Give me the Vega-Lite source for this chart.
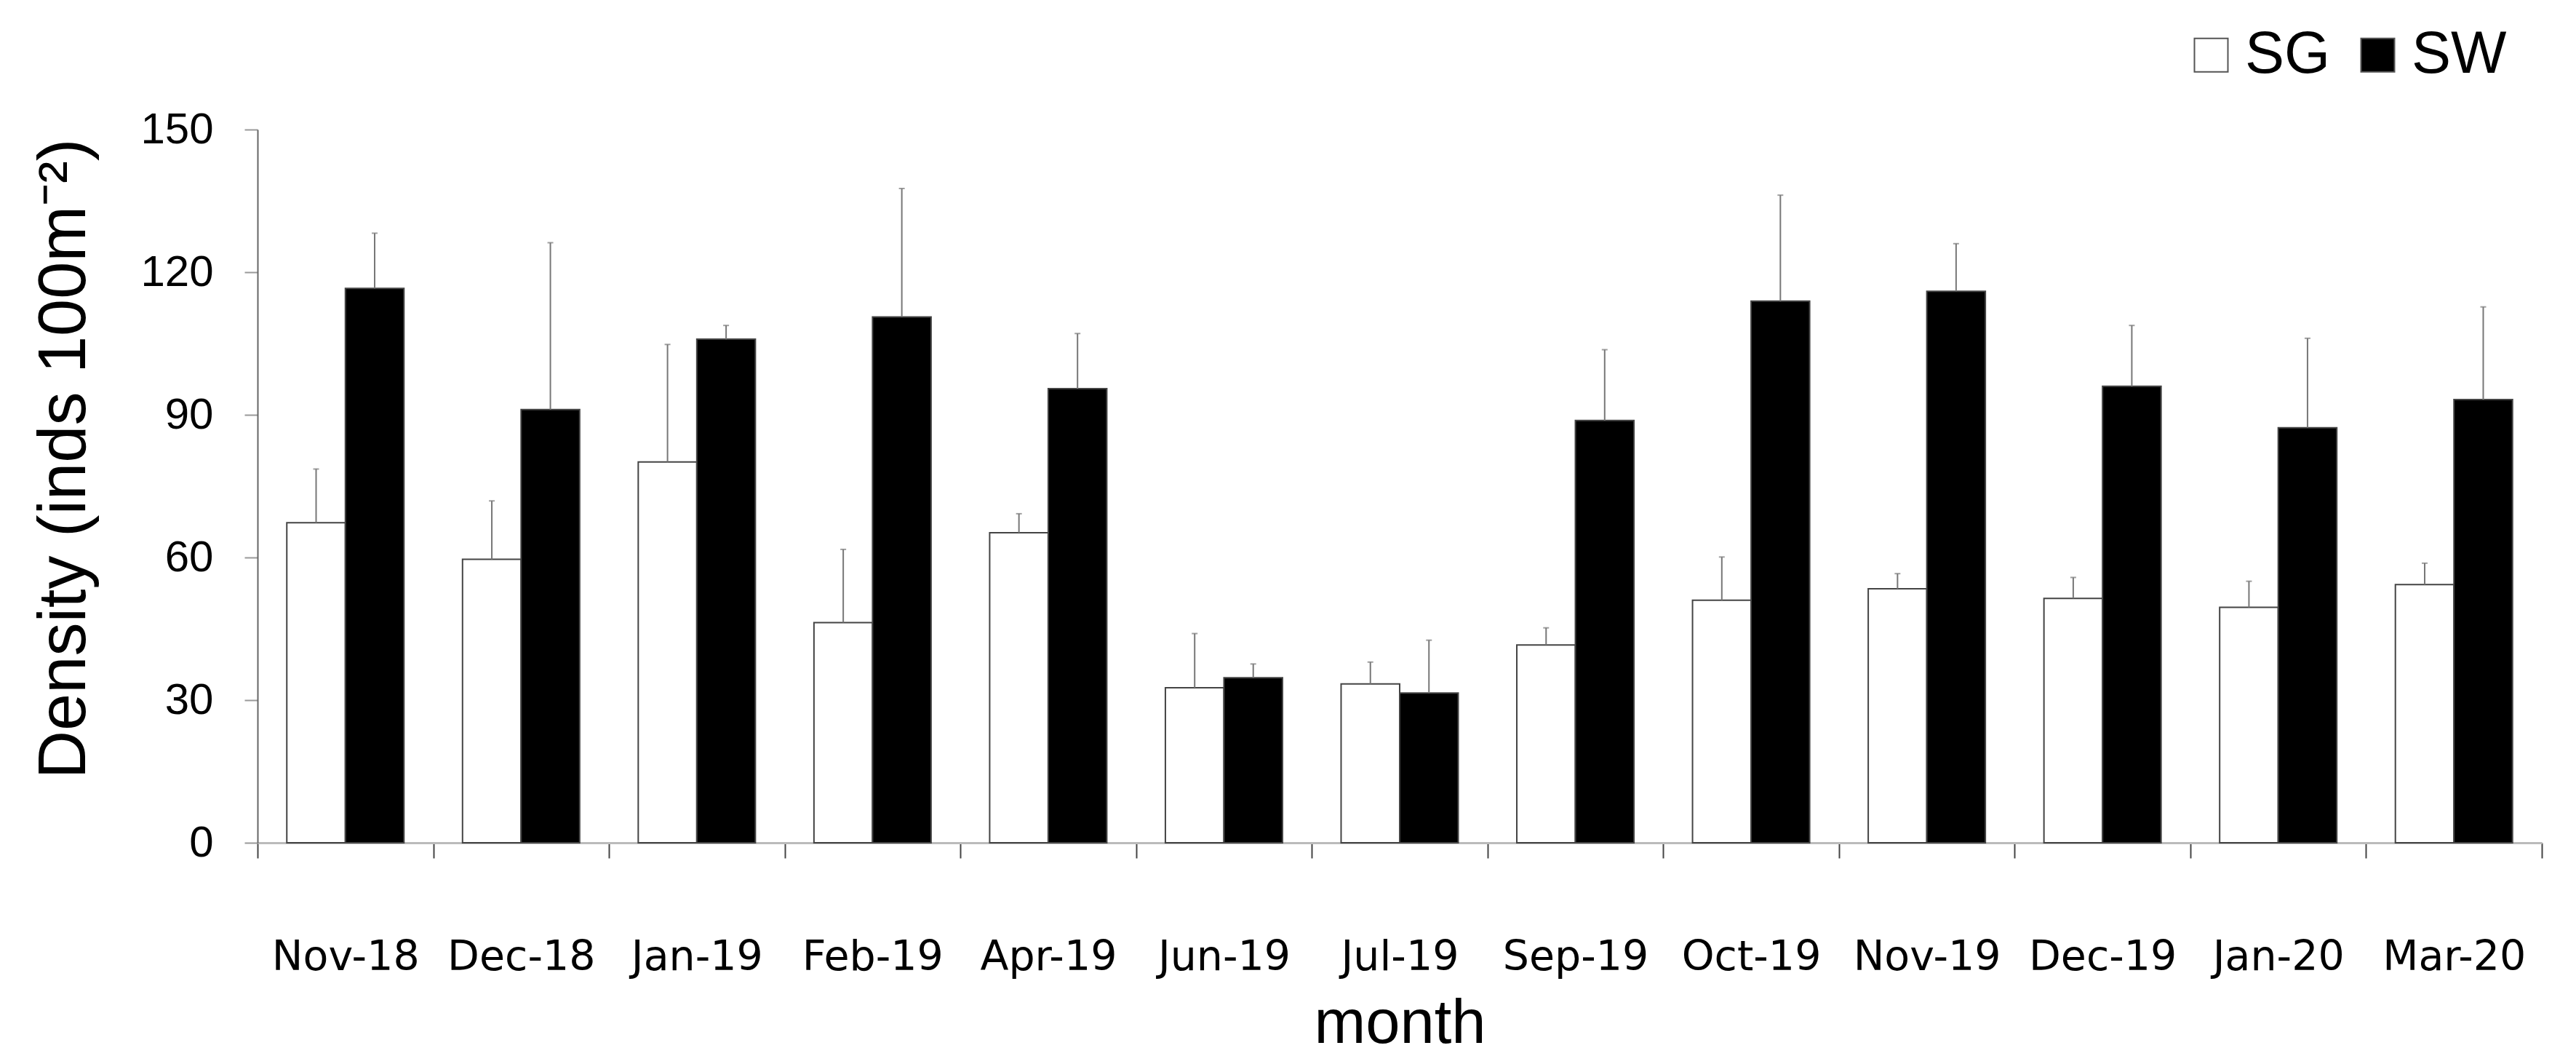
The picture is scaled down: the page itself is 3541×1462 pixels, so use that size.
{
  "$schema": "https://vega.github.io/schema/vega-lite/v6.json",
  "autosize": {"type": "none"},
  "padding": {"left": 354, "top": 178, "right": 47, "bottom": 304},
  "width": 3140,
  "height": 980,
  "background": "white",
  "config": {"view": {"stroke": null}, "font": "Liberation Sans"},
  "data": {
    "values": [
      {"month": "Nov-18", "group": "SG", "value": 67.3, "upper": 78.6},
      {"month": "Nov-18", "group": "SW", "value": 116.6, "upper": 128.2},
      {"month": "Dec-18", "group": "SG", "value": 59.6, "upper": 71.9},
      {"month": "Dec-18", "group": "SW", "value": 91.1, "upper": 126.2},
      {"month": "Jan-19", "group": "SG", "value": 80.1, "upper": 104.8},
      {"month": "Jan-19", "group": "SW", "value": 105.9, "upper": 108.8},
      {"month": "Feb-19", "group": "SG", "value": 46.3, "upper": 61.7},
      {"month": "Feb-19", "group": "SW", "value": 110.6, "upper": 137.6},
      {"month": "Apr-19", "group": "SG", "value": 65.2, "upper": 69.2},
      {"month": "Apr-19", "group": "SW", "value": 95.5, "upper": 107.1},
      {"month": "Jun-19", "group": "SG", "value": 32.6, "upper": 44.0},
      {"month": "Jun-19", "group": "SW", "value": 34.7, "upper": 37.6},
      {"month": "Jul-19", "group": "SG", "value": 33.4, "upper": 38.0},
      {"month": "Jul-19", "group": "SW", "value": 31.5, "upper": 42.6},
      {"month": "Sep-19", "group": "SG", "value": 41.6, "upper": 45.2},
      {"month": "Sep-19", "group": "SW", "value": 88.8, "upper": 103.7},
      {"month": "Oct-19", "group": "SG", "value": 51.0, "upper": 60.1},
      {"month": "Oct-19", "group": "SW", "value": 113.9, "upper": 136.2},
      {"month": "Nov-19", "group": "SG", "value": 53.4, "upper": 56.6},
      {"month": "Nov-19", "group": "SW", "value": 116.0, "upper": 126.0},
      {"month": "Dec-19", "group": "SG", "value": 51.4, "upper": 55.8},
      {"month": "Dec-19", "group": "SW", "value": 96.0, "upper": 108.8},
      {"month": "Jan-20", "group": "SG", "value": 49.5, "upper": 55.0},
      {"month": "Jan-20", "group": "SW", "value": 87.3, "upper": 106.1},
      {"month": "Mar-20", "group": "SG", "value": 54.3, "upper": 58.8},
      {"month": "Mar-20", "group": "SW", "value": 93.2, "upper": 112.7}
    ]
  },
  "encoding": {
    "x": {
      "field": "month",
      "type": "nominal",
      "sort": null,
      "scale": {"paddingInner": 0, "paddingOuter": 0},
      "axis": {
        "title": "month",
        "titleFont": "Liberation Sans",
        "titleFontSize": 85,
        "titleFontWeight": "normal",
        "titleColor": "black",
        "titleBaseline": "alphabetic",
        "titleY": 274,
        "labelAngle": 0,
        "labelFont": "DejaVu Sans",
        "labelFontSize": 57,
        "labelColor": "black",
        "labelLimit": 400,
        "labelPadding": 108,
        "labelBaseline": "top",
        "tickBand": "extent",
        "tickSize": 21,
        "tickColor": "#444",
        "tickWidth": 2,
        "domainColor": "#bbb",
        "domainWidth": 3
      }
    },
    "xOffset": {"field": "group", "type": "nominal", "scale": {"paddingInner": 0, "paddingOuter": 0.5}}
  },
  "layer": [
    {
      "mark": {"type": "bar", "stroke": "#444", "strokeWidth": 2},
      "encoding": {
        "y": {
          "field": "value",
          "type": "quantitative",
          "scale": {"domain": [0, 150], "nice": false},
          "axis": {
            "title": "Density (inds 100m⁻²)",
            "titleFont": "Liberation Sans",
            "titleFontSize": 92,
            "titleFontWeight": "normal",
            "titleColor": "black",
            "titleAngle": -90,
            "titleBaseline": "alphabetic",
            "titleAlign": "center",
            "titleX": -238,
            "titleY": 452,
            "values": [0, 30, 60, 90, 120, 150],
            "grid": false,
            "labelFont": "Liberation Sans",
            "labelFontSize": 60,
            "labelColor": "black",
            "labelPadding": 43,
            "tickSize": 18,
            "tickColor": "#999",
            "tickWidth": 2,
            "domainColor": "#666",
            "domainWidth": 2
          }
        },
        "color": {
          "field": "group",
          "type": "nominal",
          "scale": {"domain": ["SG", "SW"], "range": ["white", "black"]},
          "legend": {
            "title": null,
            "orient": "none",
            "direction": "horizontal",
            "legendX": 2645,
            "legendY": -143,
            "symbolType": "square",
            "symbolSize": 2116,
            "symbolStrokeColor": "#555",
            "symbolStrokeWidth": 2,
            "labelFont": "Liberation Sans",
            "labelFontSize": 81,
            "labelColor": "black",
            "labelOffset": 6,
            "columnPadding": 24
          }
        }
      }
    },
    {
      "mark": {"type": "rule", "color": "#777", "strokeWidth": 2},
      "encoding": {
        "y": {"field": "value", "type": "quantitative"},
        "y2": {"field": "upper"}
      }
    },
    {
      "mark": {"type": "tick", "color": "#777", "thickness": 2, "size": 8},
      "encoding": {
        "y": {"field": "upper", "type": "quantitative"}
      }
    }
  ]
}
